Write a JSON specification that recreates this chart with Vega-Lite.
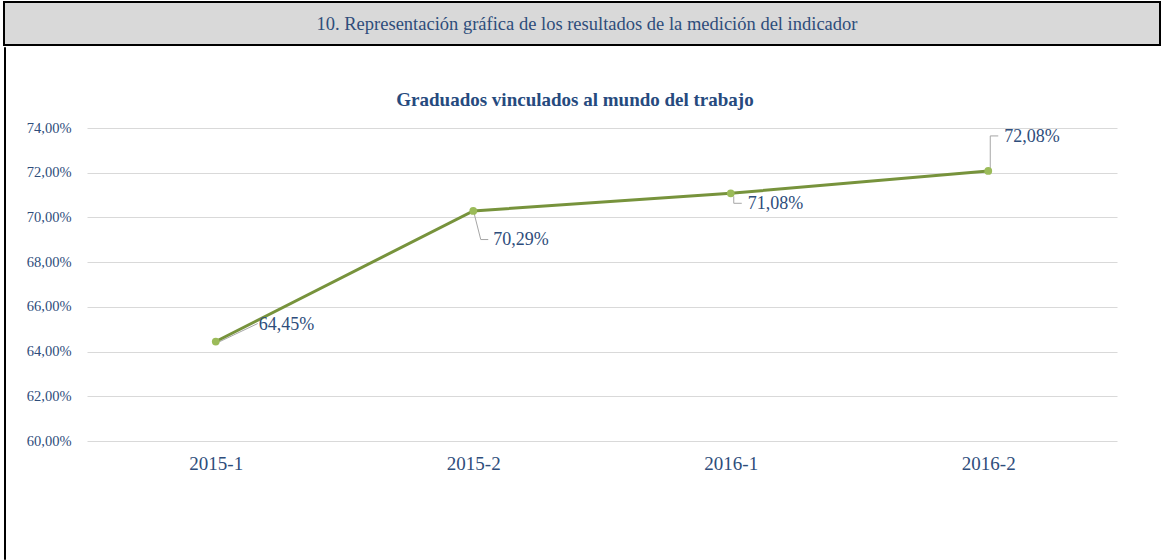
{
  "$schema": "https://vega.github.io/schema/vega-lite/v6.json",
  "padding": {"left": 3, "top": 1, "right": 0, "bottom": 0},
  "background": "white",
  "spacing": 0,
  "config": {
    "locale": {"number": {"decimal": ",", "thousands": ".", "grouping": [3], "currency": ["", " €"]}},
    "font": "Liberation Serif",
    "view": {"stroke": null},
    "concat": {"spacing": 0}
  },
  "datasets": {
    "encabezado": [{"texto": "10. Representación gráfica de los resultados de la medición del indicador"}],
    "titulo": [{"texto": "Graduados vinculados al mundo del trabajo"}],
    "serie": [
      {"periodo": "2015-1", "valor": 0.6445},
      {"periodo": "2015-2", "valor": 0.7029},
      {"periodo": "2016-1", "valor": 0.7108},
      {"periodo": "2016-2", "valor": 0.7208}
    ]
  },
  "vconcat": [
    {
      "width": 1156,
      "height": 43,
      "view": {"fill": "#D9D9D9", "stroke": "black", "strokeWidth": 2},
      "data": {"name": "encabezado"},
      "mark": {"type": "text", "font": "Liberation Serif", "fontSize": 18.5, "color": "#2E4D7B", "baseline": "middle", "dx": 5},
      "encoding": {"text": {"field": "texto", "type": "nominal"}}
    },
    {
      "spacing": 20,
      "hconcat": [
        {
          "width": 1,
          "height": 512,
          "view": {"stroke": "black", "strokeWidth": 1},
          "data": {"name": "encabezado"},
          "mark": {"type": "point", "opacity": 0, "size": 0, "strokeWidth": 0},
          "encoding": {}
        },
        {
          "spacing": 3,
          "vconcat": [
            {
              "width": 1030,
              "height": 70,
              "data": {"name": "titulo"},
              "mark": {"type": "text", "font": "Liberation Serif", "fontSize": 19, "fontWeight": "bold", "color": "#264A7E", "baseline": "middle", "dx": -27, "dy": 18},
              "encoding": {"text": {"field": "texto", "type": "nominal"}}
            },
            {
              "width": 1030,
              "height": 313,
              "data": {"name": "serie"},
              "encoding": {
                "x": {
                  "field": "periodo",
                  "type": "ordinal",
                  "scale": {"type": "point", "padding": 0.5},
                  "axis": {"labelAngle": 0, "labelFontSize": 19, "labelColor": "#2E4D7B", "labelFont": "Liberation Serif", "labelPadding": 13, "ticks": false, "domain": false, "grid": false, "title": null}
                },
                "y": {
                  "field": "valor",
                  "type": "quantitative",
                  "scale": {"domain": [0.6, 0.74], "nice": false, "zero": false},
                  "axis": {"values": [0.6, 0.62, 0.64, 0.66, 0.68, 0.7, 0.72, 0.74], "format": ".2%", "labelFontSize": 14.5, "labelColor": "#2E4D7B", "labelFont": "Liberation Serif", "labelPadding": 16, "ticks": false, "domain": false, "gridColor": "#D9D9D9", "gridWidth": 1, "title": null}
                }
              },
              "layer": [
                {
                  "transform": [{"filter": "datum.periodo == '2015-1'"}],
                  "mark": {"type": "rule", "color": "#A6A6A6", "strokeWidth": 1, "xOffset": 0, "x2Offset": 42, "yOffset": 2, "y2Offset": -18},
                  "encoding": {"x2": {"field": "periodo"}, "y2": {"field": "valor"}}
                },
                {
                  "mark": {"type": "line", "color": "#77933C", "strokeWidth": 3},
                  "encoding": {}
                },
                {
                  "transform": [{"filter": "datum.periodo == '2015-2'"}],
                  "mark": {"type": "rule", "color": "#A6A6A6", "strokeWidth": 1, "xOffset": 1, "x2Offset": 7.5, "yOffset": 3, "y2Offset": 28.6},
                  "encoding": {"x2": {"field": "periodo"}, "y2": {"field": "valor"}}
                },
                {
                  "transform": [{"filter": "datum.periodo == '2015-2'"}],
                  "mark": {"type": "rule", "color": "#A6A6A6", "strokeWidth": 1, "xOffset": 7.5, "x2Offset": 15, "yOffset": 28.6, "y2Offset": 28.6},
                  "encoding": {"x2": {"field": "periodo"}, "y2": {"field": "valor"}}
                },
                {
                  "transform": [{"filter": "datum.periodo == '2016-1'"}],
                  "mark": {"type": "rule", "color": "#A6A6A6", "strokeWidth": 1, "xOffset": 3, "x2Offset": 3, "yOffset": 3, "y2Offset": 10},
                  "encoding": {"x2": {"field": "periodo"}, "y2": {"field": "valor"}}
                },
                {
                  "transform": [{"filter": "datum.periodo == '2016-1'"}],
                  "mark": {"type": "rule", "color": "#A6A6A6", "strokeWidth": 1, "xOffset": 3, "x2Offset": 11, "yOffset": 10, "y2Offset": 10},
                  "encoding": {"x2": {"field": "periodo"}, "y2": {"field": "valor"}}
                },
                {
                  "transform": [{"filter": "datum.periodo == '2016-2'"}],
                  "mark": {"type": "rule", "color": "#A6A6A6", "strokeWidth": 1, "xOffset": 2, "x2Offset": 2, "yOffset": -3, "y2Offset": -35},
                  "encoding": {"x2": {"field": "periodo"}, "y2": {"field": "valor"}}
                },
                {
                  "transform": [{"filter": "datum.periodo == '2016-2'"}],
                  "mark": {"type": "rule", "color": "#A6A6A6", "strokeWidth": 1, "xOffset": 2, "x2Offset": 10, "yOffset": -35, "y2Offset": -35},
                  "encoding": {"x2": {"field": "periodo"}, "y2": {"field": "valor"}}
                },
                {
                  "mark": {"type": "point", "filled": true, "color": "#9BBB59", "opacity": 1, "size": 60},
                  "encoding": {}
                },
                {
                  "transform": [{"filter": "datum.periodo == '2015-1'"}],
                  "mark": {"type": "text", "align": "left", "baseline": "middle", "dx": 43, "dy": -17, "fontSize": 18, "font": "Liberation Serif", "color": "#2E4D7B"},
                  "encoding": {"text": {"field": "valor", "type": "quantitative", "format": ".2%"}}
                },
                {
                  "transform": [{"filter": "datum.periodo == '2015-2'"}],
                  "mark": {"type": "text", "align": "left", "baseline": "middle", "dx": 20, "dy": 29.5, "fontSize": 18, "font": "Liberation Serif", "color": "#2E4D7B"},
                  "encoding": {"text": {"field": "valor", "type": "quantitative", "format": ".2%"}}
                },
                {
                  "transform": [{"filter": "datum.periodo == '2016-1'"}],
                  "mark": {"type": "text", "align": "left", "baseline": "middle", "dx": 17, "dy": 11, "fontSize": 18, "font": "Liberation Serif", "color": "#2E4D7B"},
                  "encoding": {"text": {"field": "valor", "type": "quantitative", "format": ".2%"}}
                },
                {
                  "transform": [{"filter": "datum.periodo == '2016-2'"}],
                  "mark": {"type": "text", "align": "left", "baseline": "middle", "dx": 16, "dy": -34, "fontSize": 18, "font": "Liberation Serif", "color": "#2E4D7B"},
                  "encoding": {"text": {"field": "valor", "type": "quantitative", "format": ".2%"}}
                }
              ]
            }
          ]
        }
      ]
    }
  ]
}
